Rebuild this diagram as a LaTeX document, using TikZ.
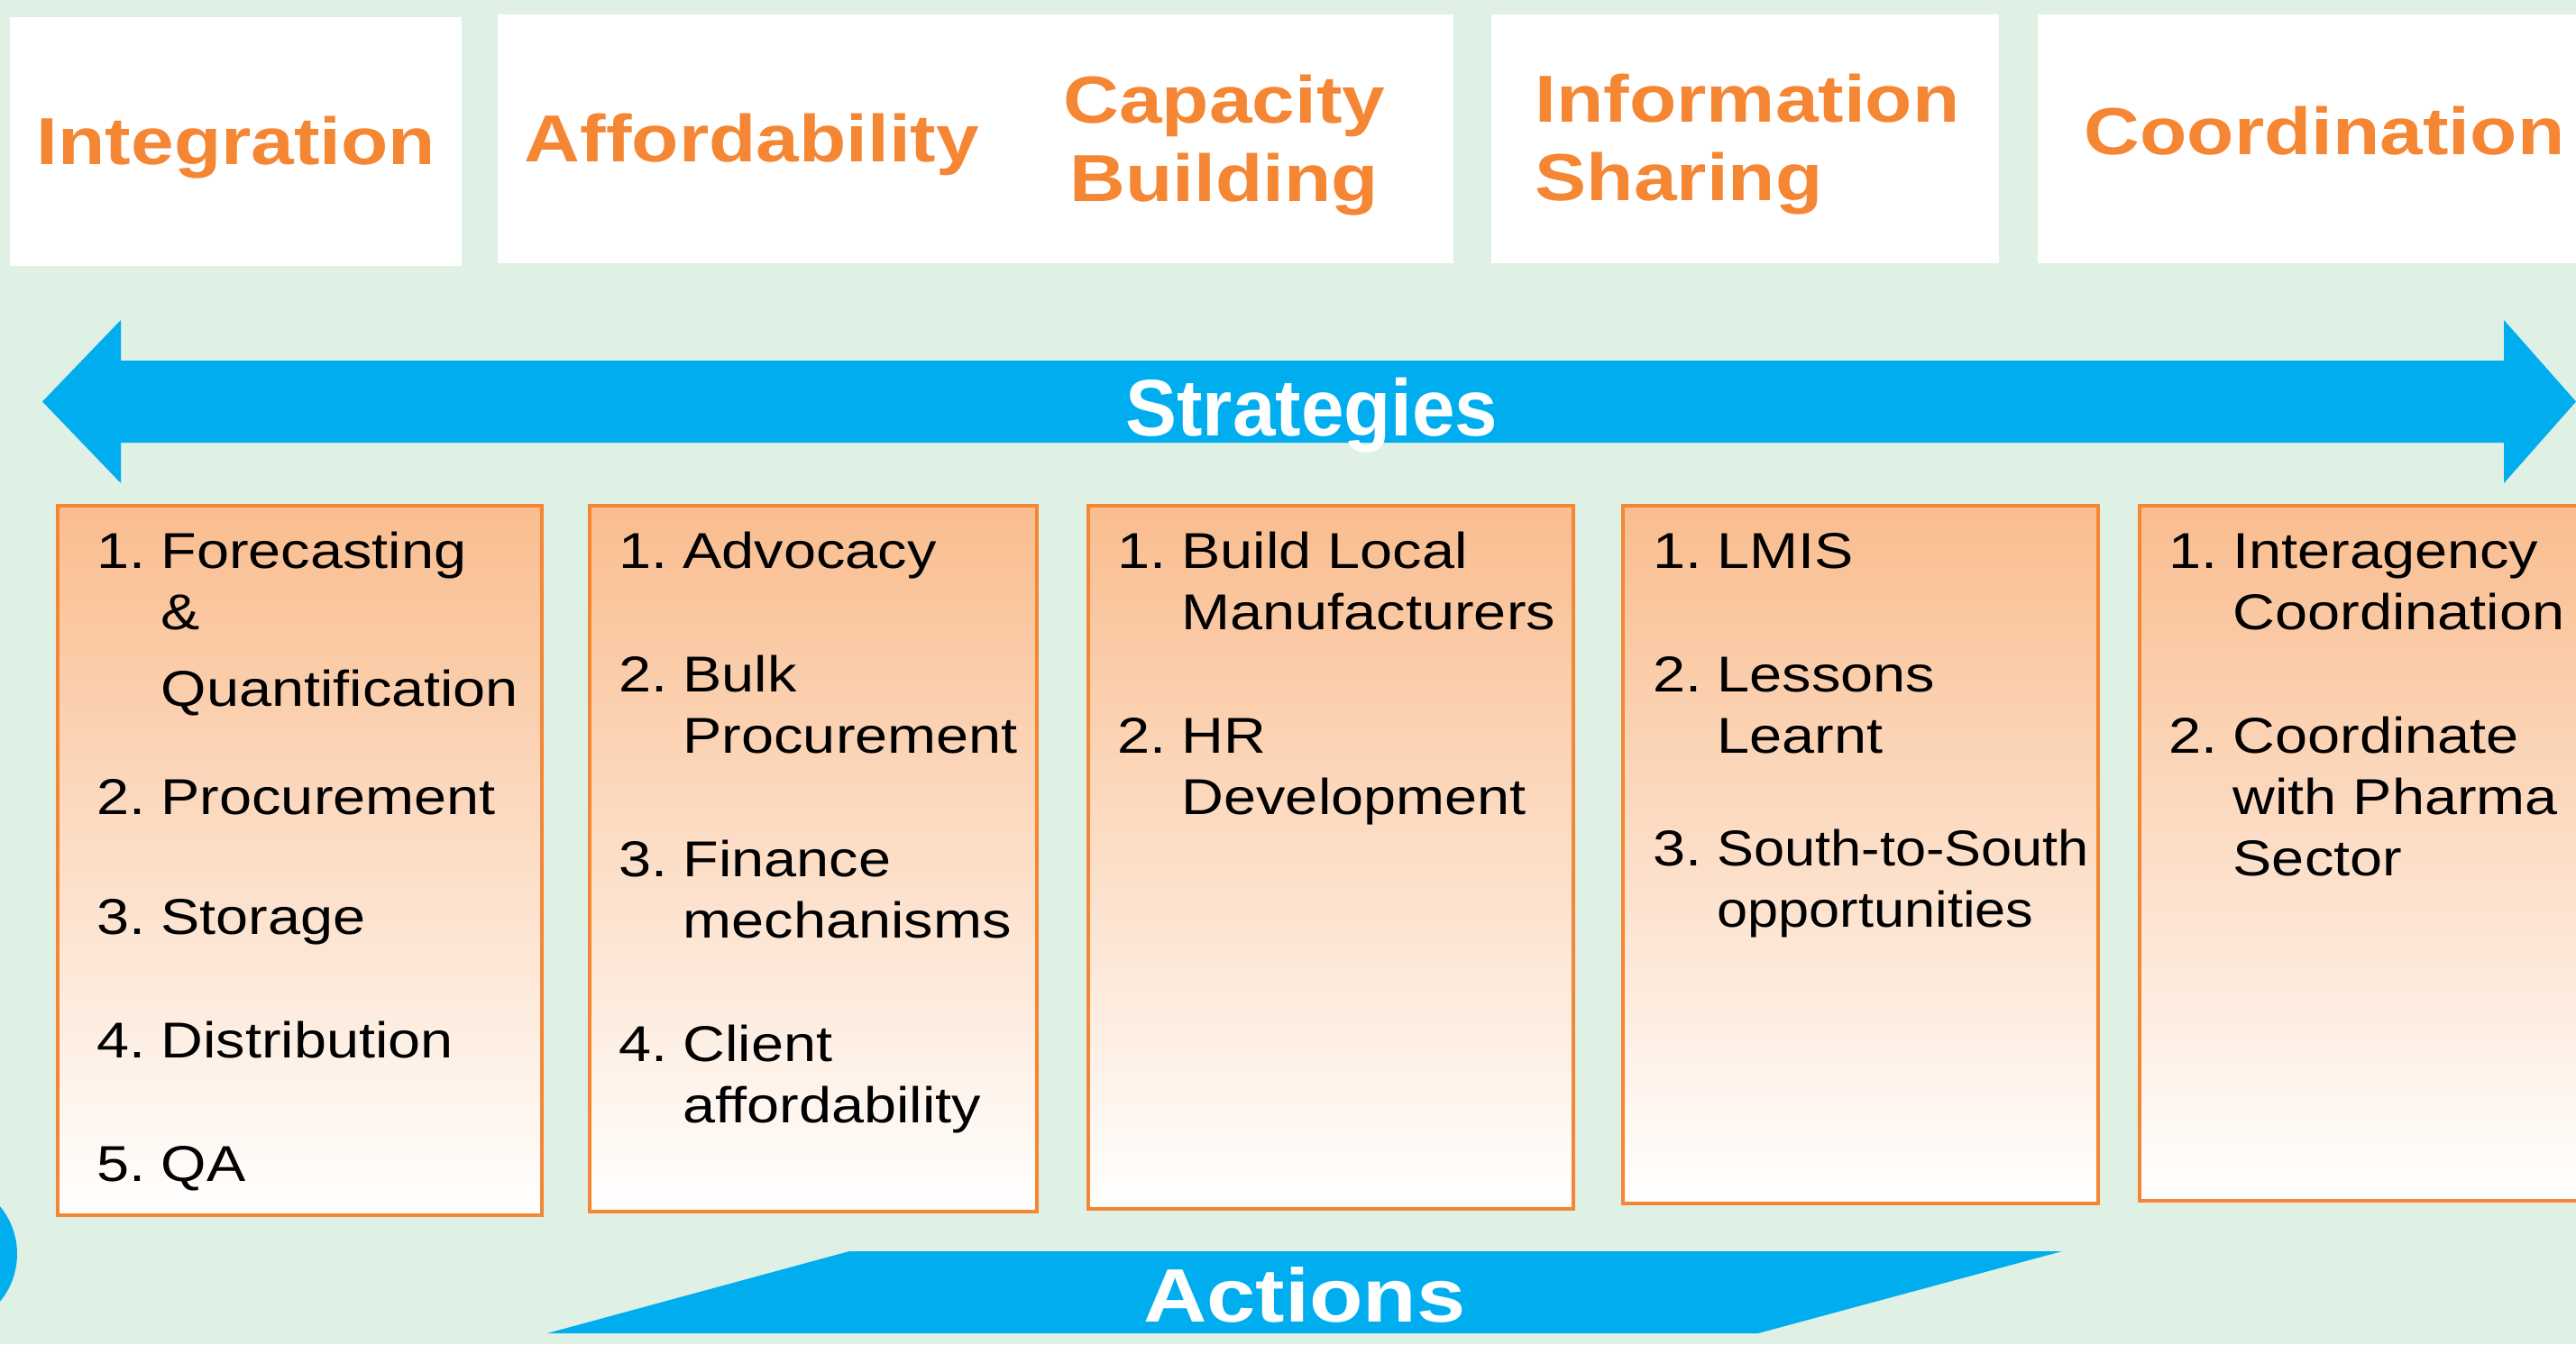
\documentclass[tikz,border=0pt]{standalone}
\usepackage{fontspec}
\usepackage{graphicx}
\newfontfamily\slidefont[FakeStretch=1.16]{Liberation Sans}
\newfontfamily\bandfont[FakeStretch=0.96]{Liberation Sans}
\definecolor{mint}{RGB}{223,240,229}
\definecolor{sky}{RGB}{0,174,239}
\definecolor{rust}{RGB}{245,134,52}
\definecolor{peach}{RGB}{249,189,143}
\newcommand{\steplist}[1]{\begin{tabular}[t]{@{}p{0.71cm}@{}l@{}}#1\end{tabular}}

\begin{document}
\begin{tikzpicture}[
  head/.style={inner sep=0pt, text=rust, font=\slidefont\bfseries\fontsize{21}{24.7}\selectfont},
  item/.style={anchor=base west, inner sep=0pt, font=\slidefont\fontsize{15.9}{19.35}\selectfont},
  actbox/.style={draw=rust, line width=1.1pt, top color=peach, bottom color=white},
  bandtext/.style={anchor=base, inner sep=0pt, text=white}
]
\useasboundingbox (0,0) rectangle (28.57,14.91);
\clip (0,0) rectangle (28.57,14.91);
\fill[mint] (0,0) rectangle (28.57,14.91); %background

%\draw[step=1cm,gray,very thin] (0,0) grid (28,14);

\fill[white] (0.11,11.96) rectangle (5.12,14.72);   %integration
\fill[white] (5.52,11.99) rectangle (16.12,14.75);  %affordability + capacity
\fill[white] (16.54,11.99) rectangle (22.17,14.75); %information
\fill[white] (22.60,11.99) rectangle (29.00,14.75); %coordination

\node[head,anchor=base] (integ) at (2.62,13.08) {Integration};
\node[head,anchor=base] (afford) at (8.34,13.11) {Affordability};
\node[head,anchor=base] (capac) at (13.58,13.54) {\begin{tabular}[t]{@{}c@{}}Capacity\\Building\end{tabular}};
\node[head,anchor=base west] (inform) at (17.02,13.55) {\begin{tabular}[t]{@{}l@{}}Information\\Sharing\end{tabular}};
\node[head,anchor=base] (coord) at (25.78,13.19) {Coordination};

% strategies band
\fill[sky] (0.47,10.455) -- (1.34,11.36) -- (1.34,10.91) -- (27.77,10.91) -- (27.77,11.36)
  -- (28.57,10.455) -- (27.77,9.55) -- (27.77,10.00) -- (1.34,10.00) -- (1.34,9.55) -- cycle;
\node[bandtext,font=\bandfont\bfseries\fontsize{25.3}{30}\selectfont] (strat) at (14.55,10.07) {Strategies};

% action boxes
\draw[actbox] (0.64,1.43) rectangle (6.01,9.30);
\draw[actbox] (6.54,1.47) rectangle (11.50,9.30);
\draw[actbox] (12.07,1.50) rectangle (17.45,9.30);
\draw[actbox] (18.00,1.56) rectangle (23.27,9.30);
\draw[actbox] (23.73,1.59) rectangle (29.00,9.30);

\node[item] (fq) at (1.07,8.61) {\steplist{1. & Forecasting\\ & \&\\[5pt] & Quantification}};
\node[item] (proc) at (1.07,5.88) {\steplist{2. & Procurement}};
\node[item] (stor) at (1.07,4.55) {\steplist{3. & Storage}};
\node[item] (distr) at (1.07,3.18) {\steplist{4. & Distribution}};
\node[item] (qa) at (1.07,1.81) {\steplist{5. & QA}};

\node[item] (advoc) at (6.86,8.61) {\steplist{1. & Advocacy}};
\node[item] (bulk) at (6.86,7.24) {\steplist{2. & Bulk\\ & Procurement}};
\node[item] (fin) at (6.86,5.19) {\steplist{3. & Finance\\ & mechanisms}};
\node[item] (client) at (6.86,3.14) {\steplist{4. & Client\\ & affordability}};

\node[item] (local) at (12.39,8.61) {\steplist{1. & Build Local\\ & Manufacturers}};
\node[item] (hr) at (12.39,6.56) {\steplist{2. & HR\\ & Development}};

\node[item] (lmis) at (18.33,8.61) {\steplist{1. & LMIS}};
\node[item] (lessons) at (18.33,7.24) {\steplist{2. & Lessons\\ & Learnt}};
\node[item] (south) at (18.33,5.31) {\steplist{3. & \scalebox{0.945}[1]{South-to-South}\\ & \scalebox{0.945}[1]{opportunities}}};

\node[item] (inter) at (24.05,8.61) {\steplist{1. & Interagency\\ & Coordination}};
\node[item] (pharma) at (24.05,6.56) {\steplist{2. & Coordinate\\ & with Pharma\\ & Sector}};

\fill[sky] (-0.64,1.00) circle (0.83); %edge disc

% actions band
\fill[sky] (6.07,0.12) -- (9.42,1.03) -- (22.87,1.03) -- (19.50,0.12) -- cycle;
\node[bandtext,font=\slidefont\bfseries\fontsize{23.9}{28}\selectfont] (act) at (14.47,0.25) {Actions};

\end{tikzpicture}
\end{document}
